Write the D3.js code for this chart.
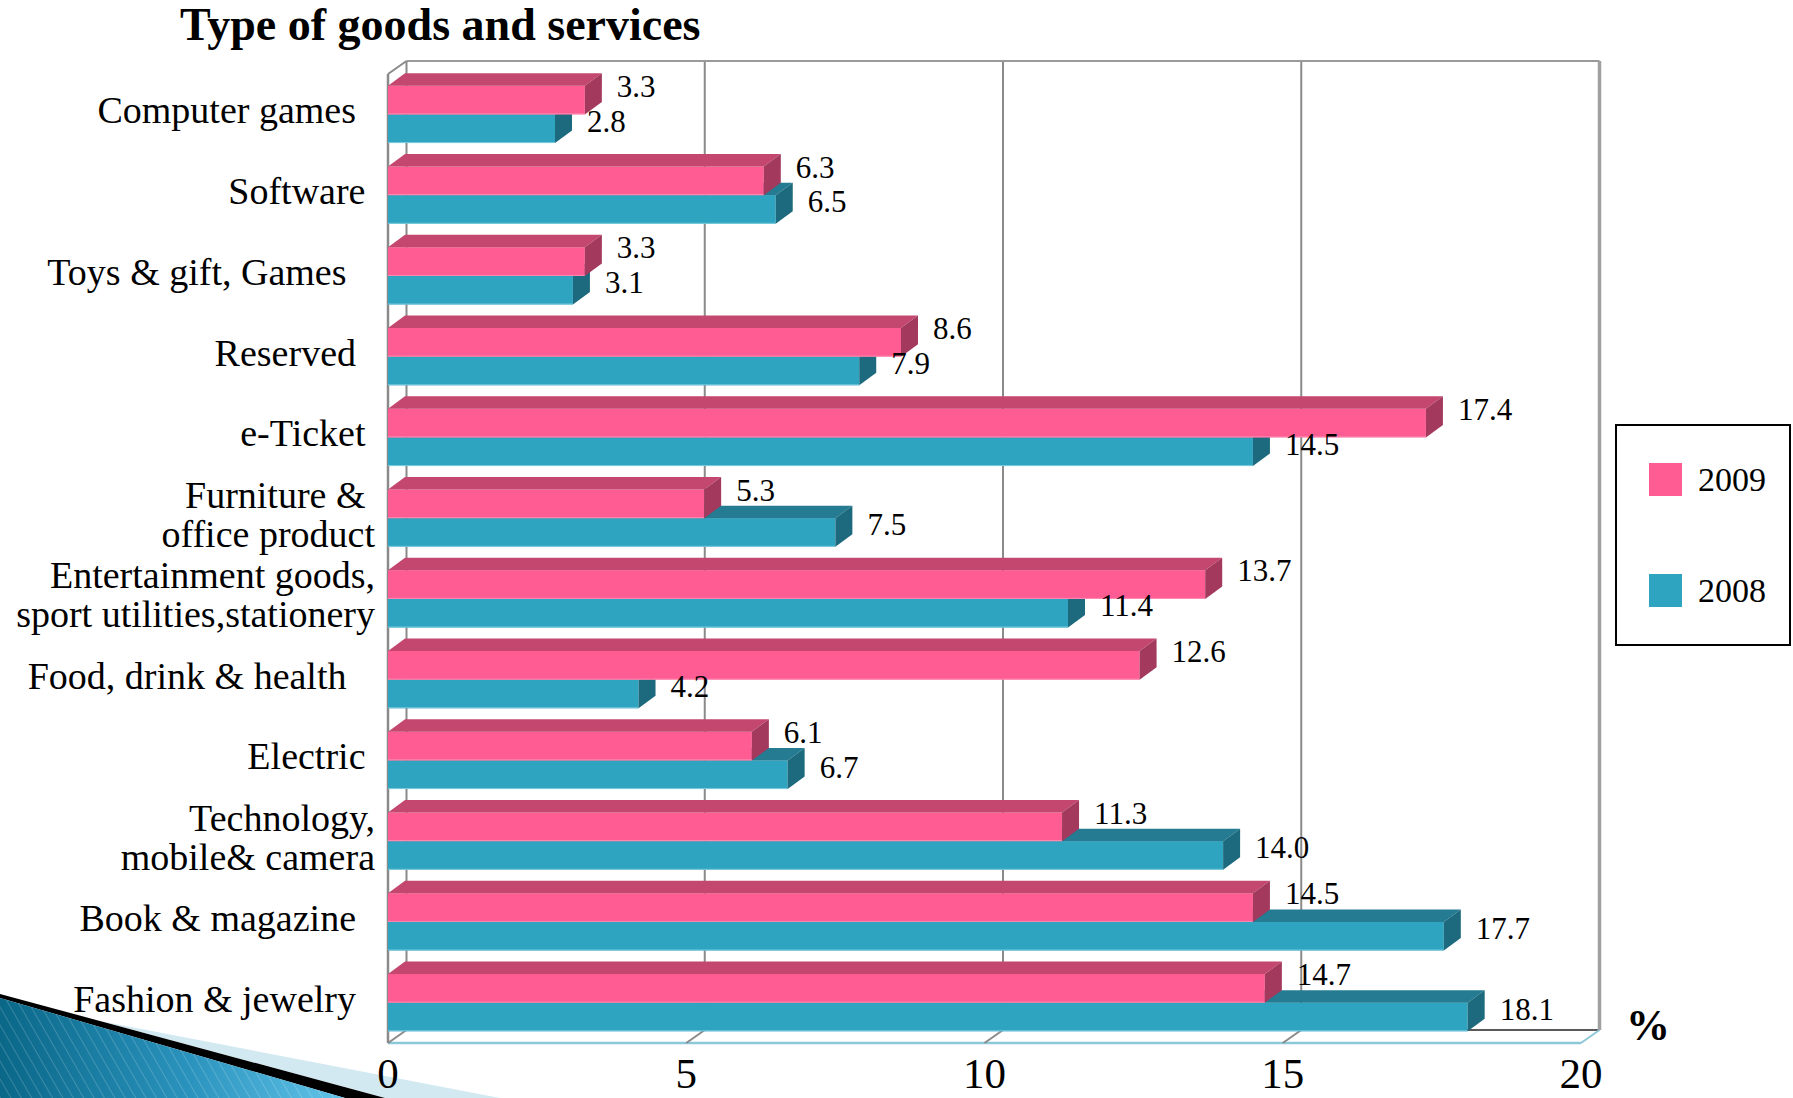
<!DOCTYPE html>
<html>
<head>
<meta charset="utf-8">
<script src="https://cdn.jsdelivr.net/npm/d3@7"></script>
<style>
  html, body { margin: 0; padding: 0; background: #fff; overflow: hidden; }
  text { font-family: 'Liberation Serif', 'Times New Roman', serif; fill: #000; }
</style>
</head>
<body>
<svg id="chart" width="1793" height="1098"></svg>
<script>
// ---- data ----
const chartTitle = "Type of goods and services";
const unitLabel = "%";
const categories = [
  "Computer games  ",
  "Software ",
  "Toys & gift, Games   ",
  "Reserved  ",
  "e-Ticket ",
  "Furniture & \noffice product",
  "Entertainment goods,\nsport utilities,stationery",
  "Food, drink & health   ",
  "Electric ",
  "Technology,\nmobile& camera",
  "Book & magazine  ",
  "Fashion & jewelry  "
];
const values2009 = [3.3, 6.3, 3.3, 8.6, 17.4, 5.3, 13.7, 12.6, 6.1, 11.3, 14.5, 14.7];
const values2008 = [2.8, 6.5, 3.1, 7.9, 14.5, 7.5, 11.4, 4.2, 6.7, 14.0, 17.7, 18.1];
const seriesNames = ["2009", "2008"];
const xTicks = [0, 5, 10, 15, 20];

// ---- layout ----
const svg = d3.select("#chart");
const frontLeft = 388, frontRight = 1581;
const plotTop = 74, plotBottom = 1043;
const wallDX = 18.5, wallDY = -13;
const barDX = 17, barDY = -12.5;

const x = d3.scaleLinear().domain([0, 20]).range([frontLeft, frontRight]);
const y = d3.scaleBand().domain(d3.range(categories.length))
  .range([plotTop, plotBottom]).paddingInner(0.29).paddingOuter(0.145);
const ySeries = d3.scaleBand().domain(seriesNames).range([0, y.bandwidth()]);

const palette = {
  "2009": { front: "#ff5c93", top: "#c3476f", side: "#a3395d", edge: "#ff8db3" },
  "2008": { front: "#2ea4c1", top: "#247b92", side: "#1d697d", edge: "#7ccbdd" }
};

// ---- slide decoration (bottom-left wedge) ----
const defs = svg.append("defs");
const grad = defs.append("linearGradient").attr("id", "wedgeFill")
  .attr("x1", 0).attr("y1", 0).attr("x2", 1).attr("y2", 0);
grad.append("stop").attr("offset", "0%").attr("stop-color", "#0a6788");
grad.append("stop").attr("offset", "55%").attr("stop-color", "#2a93bd");
grad.append("stop").attr("offset", "100%").attr("stop-color", "#62c4ea");
const pat = defs.append("pattern").attr("id", "wedgeStripes")
  .attr("patternUnits", "userSpaceOnUse").attr("width", 9).attr("height", 9)
  .attr("patternTransform", "rotate(-30)");
pat.append("line").attr("x1", 0).attr("y1", 0).attr("x2", 0).attr("y2", 9)
  .attr("stroke", "#ffffff").attr("stroke-opacity", 0.18).attr("stroke-width", 2);

const deco = svg.append("g").attr("class", "decoration");
deco.append("polygon").attr("points", "100,1021 500,1098 385,1098").attr("fill", "#d3e9f2");
deco.append("polygon").attr("points", "0,994 385,1098 345,1098 0,998").attr("fill", "#000");
deco.append("polygon").attr("points", "0,998 345,1098 0,1098").attr("fill", "url(#wedgeFill)");
deco.append("polygon").attr("points", "0,998 345,1098 0,1098").attr("fill", "url(#wedgeStripes)");

// ---- walls, floor and gridlines ----
const walls = svg.append("g").attr("class", "walls").attr("fill", "none");
const backTop = plotTop + wallDY, backBottom = plotBottom + wallDY;
const bx = v => x(v) + wallDX;

// floor
walls.append("polygon")
  .attr("points", [[x(0), plotBottom], [bx(0), backBottom], [bx(20), backBottom], [x(20), plotBottom]].join(" "))
  .attr("fill", "#fff");
walls.append("line").attr("x1", bx(0)).attr("x2", bx(20)).attr("y1", backBottom).attr("y2", backBottom)
  .attr("stroke", "#5a5a5a").attr("stroke-width", 2);
walls.append("line").attr("x1", x(0)).attr("x2", x(20)).attr("y1", plotBottom).attr("y2", plotBottom)
  .attr("stroke", "#8cc8d8").attr("stroke-width", 2.5);
walls.append("line").attr("x1", x(20)).attr("x2", bx(20)).attr("y1", plotBottom).attr("y2", backBottom)
  .attr("stroke", "#8cc8d8").attr("stroke-width", 2);

// floor gridlines
walls.selectAll(".floorGrid").data(xTicks.slice(1, -1)).join("line")
  .attr("x1", d => x(d)).attr("y1", plotBottom).attr("x2", d => bx(d)).attr("y2", backBottom)
  .attr("stroke", "#8a8a8a").attr("stroke-width", 2);

// back wall gridlines
walls.selectAll(".backGrid").data(xTicks.slice(1, -1)).join("line")
  .attr("x1", d => bx(d)).attr("x2", d => bx(d)).attr("y1", backTop).attr("y2", backBottom)
  .attr("stroke", "#8a8a8a").attr("stroke-width", 2);

// back wall outline
walls.append("line").attr("x1", bx(0)).attr("x2", bx(20)).attr("y1", backTop).attr("y2", backTop)
  .attr("stroke", "#9a9a9a").attr("stroke-width", 2);
walls.append("line").attr("x1", bx(20)).attr("x2", bx(20)).attr("y1", backTop).attr("y2", backBottom)
  .attr("stroke", "#a0a0a0").attr("stroke-width", 3.5);
walls.append("line").attr("x1", bx(0)).attr("x2", bx(0)).attr("y1", backTop).attr("y2", backBottom)
  .attr("stroke", "#8a8a8a").attr("stroke-width", 2);

// side wall edges
walls.append("line").attr("x1", x(0)).attr("x2", x(0)).attr("y1", plotTop).attr("y2", plotBottom)
  .attr("stroke", "#8a8a8a").attr("stroke-width", 2.5);
walls.append("line").attr("x1", x(0)).attr("x2", bx(0)).attr("y1", plotTop).attr("y2", backTop)
  .attr("stroke", "#8a8a8a").attr("stroke-width", 2);
walls.append("line").attr("x1", x(0)).attr("x2", bx(0)).attr("y1", plotBottom).attr("y2", backBottom)
  .attr("stroke", "#8a8a8a").attr("stroke-width", 2);

// ---- 3D bars ----
const rows = categories.map((c, i) => ({ i, "2009": values2009[i], "2008": values2008[i] }));
const barsG = svg.append("g").attr("class", "bars");
// lower series first so the upper bar's front hides its top face
["2008", "2009"].forEach(s => {
  const col = palette[s];
  const g = barsG.append("g").attr("class", "series-" + s);
  const bar = g.selectAll("g").data(rows).join("g");
  const x0 = x(0);
  const top = d => y(d.i) + ySeries(s);
  const bot = d => top(d) + ySeries.bandwidth();
  bar.append("rect")
    .attr("x", x0).attr("y", top)
    .attr("width", d => x(d[s]) - x0).attr("height", ySeries.bandwidth())
    .attr("fill", col.front);
  bar.append("line")
    .attr("x1", x0).attr("x2", d => x(d[s])).attr("y1", d => bot(d) - 0.5).attr("y2", d => bot(d) - 0.5)
    .attr("stroke", col.edge).attr("stroke-width", 1);
  bar.append("polygon")
    .attr("points", d => [[x0, top(d)], [x0 + barDX, top(d) + barDY], [x(d[s]) + barDX, top(d) + barDY], [x(d[s]), top(d)]].join(" "))
    .attr("fill", col.top);
  bar.append("polygon")
    .attr("points", d => [[x(d[s]), top(d)], [x(d[s]) + barDX, top(d) + barDY], [x(d[s]) + barDX, bot(d) + barDY], [x(d[s]), bot(d)]].join(" "))
    .attr("fill", col.side);
});

// ---- value labels ----
const fmt = d3.format(".1f");
const labelLift = { "2009": -14, "2008": -8 };
const labelsG = svg.append("g").attr("class", "value-labels");
seriesNames.forEach(s => {
  labelsG.selectAll(".v" + s).data(rows).join("text")
    .attr("x", d => x(d[s]) + barDX + 15)
    .attr("y", d => y(d.i) + ySeries(s) + ySeries.bandwidth() / 2 + labelLift[s])
    .attr("dy", "0.35em")
    .attr("font-size", 31)
    .text(d => fmt(d[s]));
});

// ---- category labels ----
const catG = svg.append("g").attr("class", "categories");
categories.forEach((c, i) => {
  const lines = c.split("\n");
  const cy = y(i) + y.bandwidth() / 2 + 9;
  const t = catG.append("text").attr("text-anchor", "end").attr("font-size", 38)
    .style("white-space", "pre");
  lines.forEach((ln, k) => {
    t.append("tspan").attr("x", 375).attr("y", cy + (k - (lines.length - 1) / 2) * 39).text(ln);
  });
});

// ---- x axis tick labels ----
svg.append("g").attr("class", "x-ticks").selectAll("text").data(xTicks).join("text")
  .attr("x", d => x(d)).attr("y", 1088)
  .attr("text-anchor", "middle").attr("font-size", 43)
  .text(d => d);

svg.append("text").attr("x", 1626).attr("y", 1040)
  .attr("font-size", 44).attr("font-weight", "bold").text(unitLabel);

// ---- title ----
svg.append("text").attr("x", 180).attr("y", 40)
  .attr("font-size", 46).attr("font-weight", "bold").text(chartTitle);

// ---- legend ----
const legend = svg.append("g").attr("class", "legend");
legend.append("rect").attr("x", 1616).attr("y", 425).attr("width", 174).attr("height", 220)
  .attr("fill", "#fff").attr("stroke", "#000").attr("stroke-width", 2);
const legendRows = [
  { name: seriesNames[0], y: 463 },
  { name: seriesNames[1], y: 574 }
];
legend.selectAll(".sw").data(legendRows).join("rect")
  .attr("x", 1649).attr("y", d => d.y).attr("width", 33).attr("height", 33)
  .attr("fill", d => palette[d.name].front);
legend.selectAll(".lt").data(legendRows).join("text")
  .attr("x", 1698).attr("y", d => d.y + 16.5).attr("dy", "0.35em")
  .attr("font-size", 34).text(d => d.name);
</script>
</body>
</html>
